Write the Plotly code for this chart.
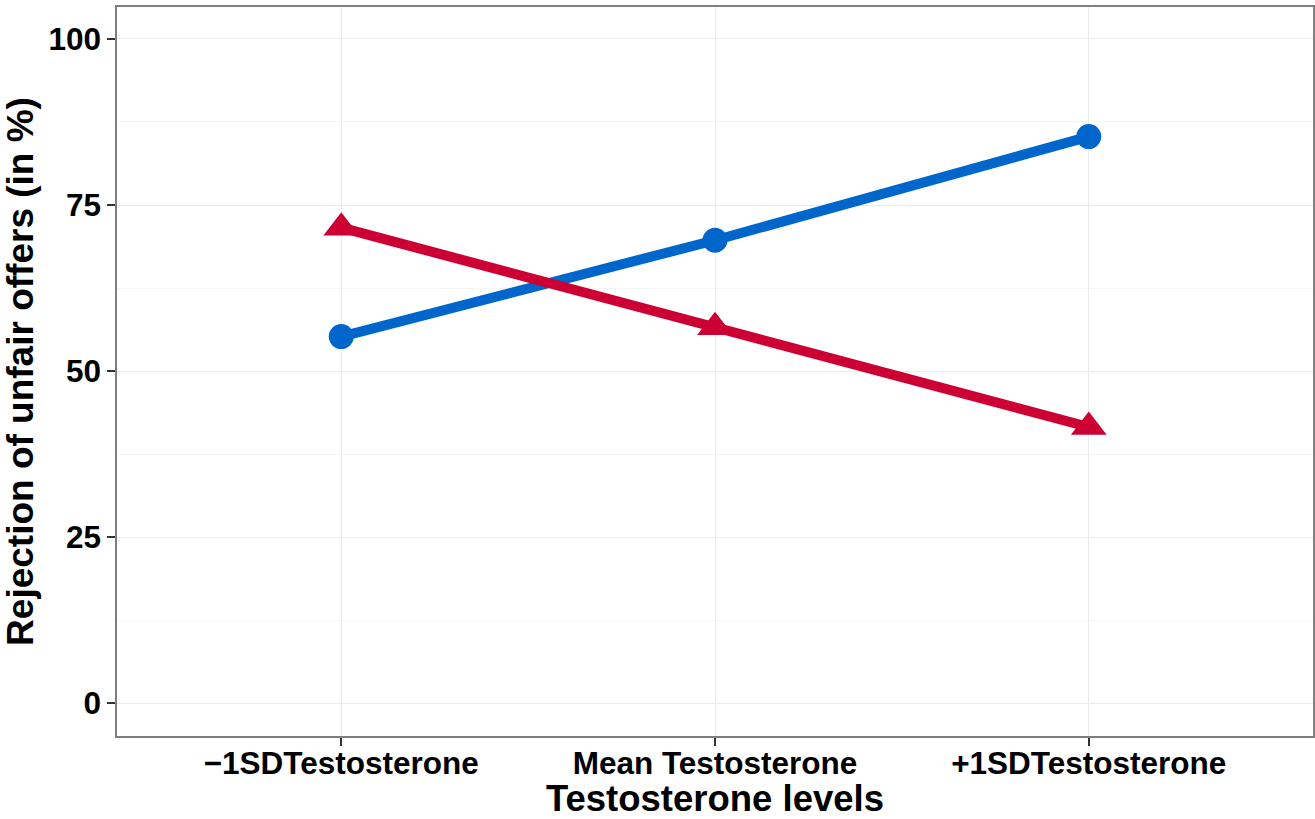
import plotly.graph_objects as go

categories = ["\u22121SDTestosterone", "Mean Testosterone", "+1SDTestosterone"]
x_pos = [1, 2, 3]
blue_values = [55.2, 69.7, 85.3]
red_values = [71.6, 56.6, 41.6]
y_ticks = [0, 25, 50, 75, 100]
y_minor = [12.5, 37.5, 62.5, 87.5]

fig = go.Figure()
fig.add_trace(go.Scatter(
    x=x_pos, y=blue_values, mode="lines+markers",
    line=dict(color="#0066CC", width=10),
    marker=dict(symbol="circle", size=25, color="#0066CC"),
    showlegend=False))
fig.add_trace(go.Scatter(
    x=x_pos, y=red_values, mode="lines+markers",
    line=dict(color="#CC0033", width=10),
    marker=dict(symbol="triangle-up", size=31, color="#CC0033"),
    showlegend=False))

font_family = "Liberation Sans, Arial, sans-serif"
fig.update_layout(
    width=1315, height=819,
    margin=dict(l=117, r=2, t=7, b=83),
    paper_bgcolor="white", plot_bgcolor="white",
    font=dict(family=font_family, color="black"),
    xaxis=dict(
        range=[0.4, 3.6], tickvals=x_pos, ticktext=categories,
        automargin=False,
        showgrid=True, gridcolor="#EBEBEB", gridwidth=1,
        ticks="outside", ticklen=8, tickwidth=2, tickcolor="#333333",
        ticklabelstandoff=-10,
        tickfont=dict(size=31.5, family=font_family, color="black", weight="bold"),
        title=dict(text="<b>Testosterone levels</b>", font=dict(size=36.5), standoff=16),
        showline=True, linecolor="#7F7F7F", linewidth=1.5, mirror=True, zeroline=False),
    yaxis=dict(
        range=[-4.9, 104.8], tickvals=y_ticks,
        automargin=False,
        showgrid=True, gridcolor="#EBEBEB", gridwidth=1,
        minor=dict(tickvals=y_minor, showgrid=True, gridcolor="#F5F5F5", gridwidth=1, ticks=""),
        ticks="outside", ticklen=8, tickwidth=2, tickcolor="#333333",
        tickfont=dict(size=31.5, family=font_family, color="black", weight="bold"),
        title=dict(text="<b>Rejection of unfair offers (in %)</b>", font=dict(size=37), standoff=4),
        showline=True, linecolor="#7F7F7F", linewidth=1.5, mirror=True, zeroline=False),
)

page_css = (
    "document.documentElement.style.margin='0';"
    "document.documentElement.style.overflow='hidden';"
    "document.body.style.margin='0';"
    "document.body.style.overflow='hidden';"
)
fig.write_html("out.html", config={"displayModeBar": False}, post_script=page_css)
